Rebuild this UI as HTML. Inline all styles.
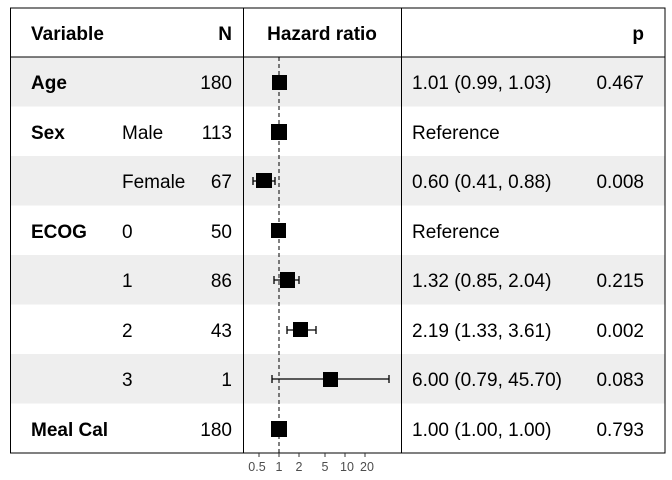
<!DOCTYPE html><html><head><style>body{margin:0;background:#fff}svg{display:block}text{font-family:"Liberation Sans",Arial,sans-serif;font-size:19px;fill:#000}.b{font-weight:bold}.t{font-size:12.5px;fill:#4d4d4d}</style></head><body>
<svg width="672" height="480" viewBox="0 0 672 480">
<g fill="#eeeeee">
<rect x="10" y="57" width="655" height="49.5"/>
<rect x="10" y="156" width="655" height="49.5"/>
<rect x="10" y="255" width="655" height="49.5"/>
<rect x="10" y="354" width="655" height="49.5"/>
</g>
<rect x="10.5" y="8" width="654.5" height="445" fill="none" stroke="#000" stroke-width="1"/>
<line x1="10" y1="57" x2="665" y2="57" stroke="#000"/>
<line x1="243.5" y1="8" x2="243.5" y2="453" stroke="#000"/>
<line x1="401.5" y1="8" x2="401.5" y2="453" stroke="#000"/>
<line x1="279" y1="57" x2="279" y2="453" stroke="#000" stroke-dasharray="4,3"/>
<text class="b" x="31" y="40">Variable</text>
<text class="b" x="232" y="40" text-anchor="end">N</text>
<text class="b" x="322" y="40" text-anchor="middle">Hazard ratio</text>
<text class="b" x="644" y="40" text-anchor="end">p</text>
<g>
<text class="b" x="31" y="89">Age</text><text x="232" y="89" text-anchor="end">180</text><text x="412" y="89">1.01 (0.99, 1.03)</text><text x="644" y="89" text-anchor="end">0.467</text>
<text class="b" x="31" y="139">Sex</text><text x="122" y="139">Male</text><text x="232" y="139" text-anchor="end">113</text><text x="412" y="139">Reference</text>
<text x="122" y="188">Female</text><text x="232" y="188" text-anchor="end">67</text><text x="412" y="188">0.60 (0.41, 0.88)</text><text x="644" y="188" text-anchor="end">0.008</text>
<text class="b" x="31" y="238">ECOG</text><text x="122" y="238">0</text><text x="232" y="238" text-anchor="end">50</text><text x="412" y="238">Reference</text>
<text x="122" y="287">1</text><text x="232" y="287" text-anchor="end">86</text><text x="412" y="287">1.32 (0.85, 2.04)</text><text x="644" y="287" text-anchor="end">0.215</text>
<text x="122" y="337">2</text><text x="232" y="337" text-anchor="end">43</text><text x="412" y="337">2.19 (1.33, 3.61)</text><text x="644" y="337" text-anchor="end">0.002</text>
<text x="122" y="386">3</text><text x="232" y="386" text-anchor="end">1</text><text x="412" y="386">6.00 (0.79, 45.70)</text><text x="644" y="386" text-anchor="end">0.083</text>
<text class="b" x="31" y="436">Meal Cal</text><text x="232" y="436" text-anchor="end">180</text><text x="412" y="436">1.00 (1.00, 1.00)</text><text x="644" y="436" text-anchor="end">0.793</text>
</g>
<g stroke="#000" stroke-width="1.3" fill="none">
<path d="M253,181H275M253,177V185M275,177V185"/>
<path d="M274,280H299M274,276V284M299,276V284"/>
<path d="M287,330H316M287,326V334M316,326V334"/>
<path d="M272,379H389M272,375V383M389,375V383"/>
</g>
<g fill="#000">
<rect x="272" y="75" width="15" height="15"/>
<rect x="271" y="124" width="16" height="16"/>
<rect x="256" y="173" width="16" height="15"/>
<rect x="271" y="223" width="15" height="15"/>
<rect x="280" y="272" width="15" height="16"/>
<rect x="293" y="322" width="15" height="15"/>
<rect x="323" y="372" width="15" height="15"/>
<rect x="271" y="421" width="16" height="16"/>
</g>
<g stroke="#333">
<line x1="259" y1="453" x2="259" y2="457"/><line x1="279" y1="453" x2="279" y2="457"/><line x1="299" y1="453" x2="299" y2="457"/><line x1="325" y1="453" x2="325" y2="457"/><line x1="345" y1="453" x2="345" y2="457"/><line x1="365" y1="453" x2="365" y2="457"/>
</g>
<g>
<text class="t" x="257" y="471" text-anchor="middle">0.5</text><text class="t" x="279" y="471" text-anchor="middle">1</text><text class="t" x="299" y="471" text-anchor="middle">2</text><text class="t" x="325" y="471" text-anchor="middle">5</text><text class="t" x="347" y="471" text-anchor="middle">10</text><text class="t" x="367" y="471" text-anchor="middle">20</text>
</g>
</svg></body></html>
